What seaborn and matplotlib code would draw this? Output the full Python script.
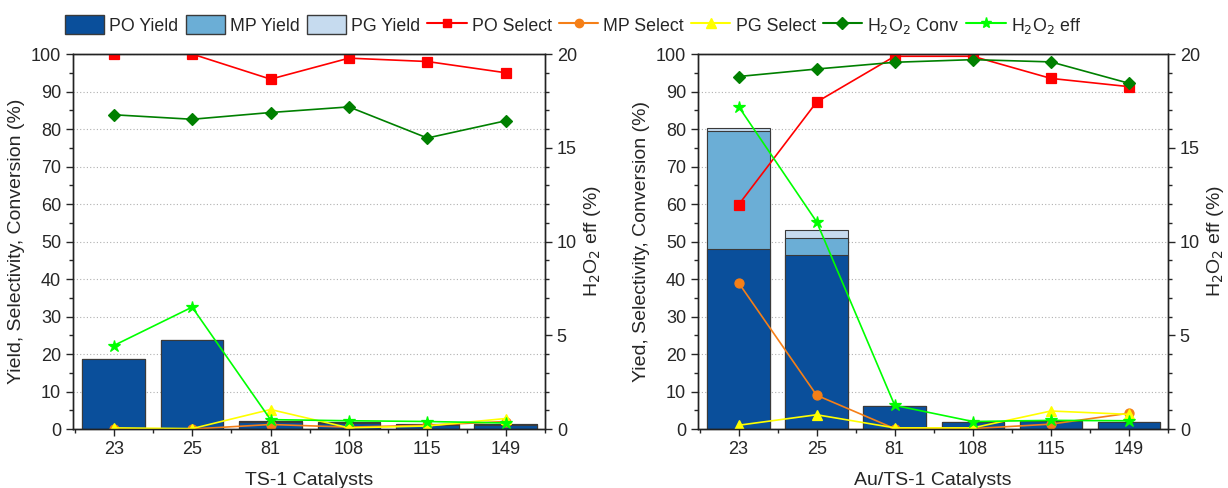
import numpy as np
import matplotlib
matplotlib.use('Agg')
import matplotlib.pyplot as plt
from matplotlib.patches import Patch
from matplotlib.lines import Line2D
from matplotlib.ticker import MultipleLocator
import seaborn as sns

sns.set_style('ticks')
plt.rcParams['font.family'] = ['Liberation Sans', 'DejaVu Sans']

cats = ['23', '25', '81', '108', '115', '149']

# TS-1 catalysts
ts_po_yield = [18.7, 23.8, 1.8, 1.6, 1.2, 1.1]
ts_mp_yield = [0.0, 0.0, 0.3, 0.3, 0.2, 0.2]
ts_pg_yield = [0.0, 0.0, 0.0, 0.0, 0.0, 0.0]
ts_po_sel = [100.0, 100.0, 93.3, 98.9, 98.0, 95.0]
ts_mp_sel = [0.0, 0.0, 1.2, 0.5, 1.0, 2.0]
ts_pg_sel = [0.3, 0.1, 5.2, 0.3, 0.8, 2.8]
ts_conv = [83.8, 82.6, 84.4, 85.9, 77.6, 82.2]
ts_eff = [4.45, 6.5, 0.5, 0.44, 0.4, 0.32]

# Au/TS-1 catalysts
au_po_yield = [48.0, 46.3, 6.2, 2.0, 2.2, 2.0]
au_mp_yield = [31.5, 4.7, 0.0, 0.0, 0.0, 0.0]
au_pg_yield = [0.8, 2.2, 0.0, 0.0, 0.0, 0.0]
au_po_sel = [59.8, 87.2, 99.4, 99.4, 93.5, 91.3]
au_mp_sel = [39.0, 9.0, 0.1, 0.1, 1.3, 4.2]
au_pg_sel = [1.0, 3.8, 0.3, 0.3, 4.8, 3.9]
au_conv = [94.0, 96.0, 97.8, 98.5, 97.9, 92.2]
au_eff = [17.2, 11.05, 1.26, 0.4, 0.46, 0.44]

c_po = '#0a4f9b'
c_mp = '#6baed6'
c_pg = '#c6dbef'
edge = '#3a3a3a'


def panel(ax, po_y, mp_y, pg_y, po_s, mp_s, pg_s, conv, eff, xlabel, ylabel):
    po_y = np.array(po_y); mp_y = np.array(mp_y); pg_y = np.array(pg_y)
    # stacked bars: tallest first
    sns.barplot(x=cats, y=po_y + mp_y + pg_y, color=c_pg, saturation=1, width=0.8,
                edgecolor=edge, linewidth=0.8, ax=ax, zorder=2)
    sns.barplot(x=cats, y=po_y + mp_y, color=c_mp, saturation=1, width=0.8,
                edgecolor=edge, linewidth=0.8, ax=ax, zorder=2)
    sns.barplot(x=cats, y=po_y, color=c_po, saturation=1, width=0.8,
                edgecolor=edge, linewidth=0.8, ax=ax, zorder=2)

    sns.pointplot(x=cats, y=po_s, color='#ff0000', markers='s', markersize=6.5,
                  linewidth=1.2, errorbar=None, ax=ax, zorder=4)
    sns.pointplot(x=cats, y=mp_s, color='#f57f17', markers='o', markersize=6.5,
                  linewidth=1.2, errorbar=None, ax=ax, zorder=4)
    sns.pointplot(x=cats, y=pg_s, color='#ffff00', markers='^', markersize=7,
                  linewidth=1.2, errorbar=None, ax=ax, zorder=4)
    sns.pointplot(x=cats, y=conv, color='#008000', markers='D', markersize=6,
                  linewidth=1.2, errorbar=None, ax=ax, zorder=4)

    ax2 = ax.twinx()
    sns.pointplot(x=cats, y=eff, color='#00ff00', markers='*', markersize=9,
                  linewidth=1.2, errorbar=None, ax=ax2)

    ax.set_ylim(0, 100)
    ax2.set_ylim(0, 20)
    ax.set_xlim(-0.52, 5.5)
    ax.yaxis.set_major_locator(MultipleLocator(10))
    ax.yaxis.set_minor_locator(MultipleLocator(5))
    ax2.yaxis.set_major_locator(MultipleLocator(5))
    ax2.yaxis.set_minor_locator(MultipleLocator(1))
    ax.set_xticks(np.arange(-0.5, 6, 1), minor=True)
    ax.yaxis.grid(True, linestyle=(0, (1, 2)), color='#b0b0b0', linewidth=0.8)
    ax.set_axisbelow(True)
    ax2.grid(False)

    ax.set_xlabel(xlabel, fontsize=14, labelpad=10)
    ax.set_ylabel(ylabel, fontsize=14, labelpad=4)
    ax2.set_ylabel('H$_2$O$_2$ eff (%)', fontsize=14, labelpad=4)
    ax2.set_xlabel('')

    for a in (ax, ax2):
        a.tick_params(which='major', length=5, width=1, labelsize=13)
        a.tick_params(which='minor', length=3, width=1)
        for s in a.spines.values():
            s.set_visible(True)
            s.set_linewidth(1.0)
            s.set_color('#222222')
    return ax2


fig = plt.figure(figsize=(12.28, 4.88), dpi=100)
ax_l = fig.add_axes([0.0594, 0.1209, 0.3844, 0.7684])
ax_r = fig.add_axes([0.5684, 0.1209, 0.3827, 0.7684])

panel(ax_l, ts_po_yield, ts_mp_yield, ts_pg_yield, ts_po_sel, ts_mp_sel, ts_pg_sel,
      ts_conv, ts_eff, 'TS-1 Catalysts', 'Yield, Selectivity, Conversion (%)')
panel(ax_r, au_po_yield, au_mp_yield, au_pg_yield, au_po_sel, au_mp_sel, au_pg_sel,
      au_conv, au_eff, 'Au/TS-1 Catalysts', 'Yied, Selectivity, Conversion (%)')

handles = [
    Patch(facecolor=c_po, edgecolor=edge),
    Patch(facecolor=c_mp, edgecolor=edge),
    Patch(facecolor=c_pg, edgecolor=edge),
    Line2D([], [], color='#ff0000', marker='s', markersize=6),
    Line2D([], [], color='#f57f17', marker='o', markersize=6),
    Line2D([], [], color='#ffff00', marker='^', markersize=7),
    Line2D([], [], color='#008000', marker='D', markersize=6),
    Line2D([], [], color='#00ff00', marker='*', markersize=8),
]
labels = ['PO Yield', 'MP Yield', 'PG Yield', 'PO Select', 'MP Select',
          'PG Select', 'H$_2$O$_2$ Conv', 'H$_2$O$_2$ eff']
fig.legend(handles, labels, loc='center left', ncol=8, bbox_to_anchor=(0.047, 0.948),
           frameon=False, fontsize=12.8, handlelength=2.2, handleheight=1.25,
           handletextpad=0.3, columnspacing=0.4, borderaxespad=0)

fig.savefig('out.png', dpi=100)
